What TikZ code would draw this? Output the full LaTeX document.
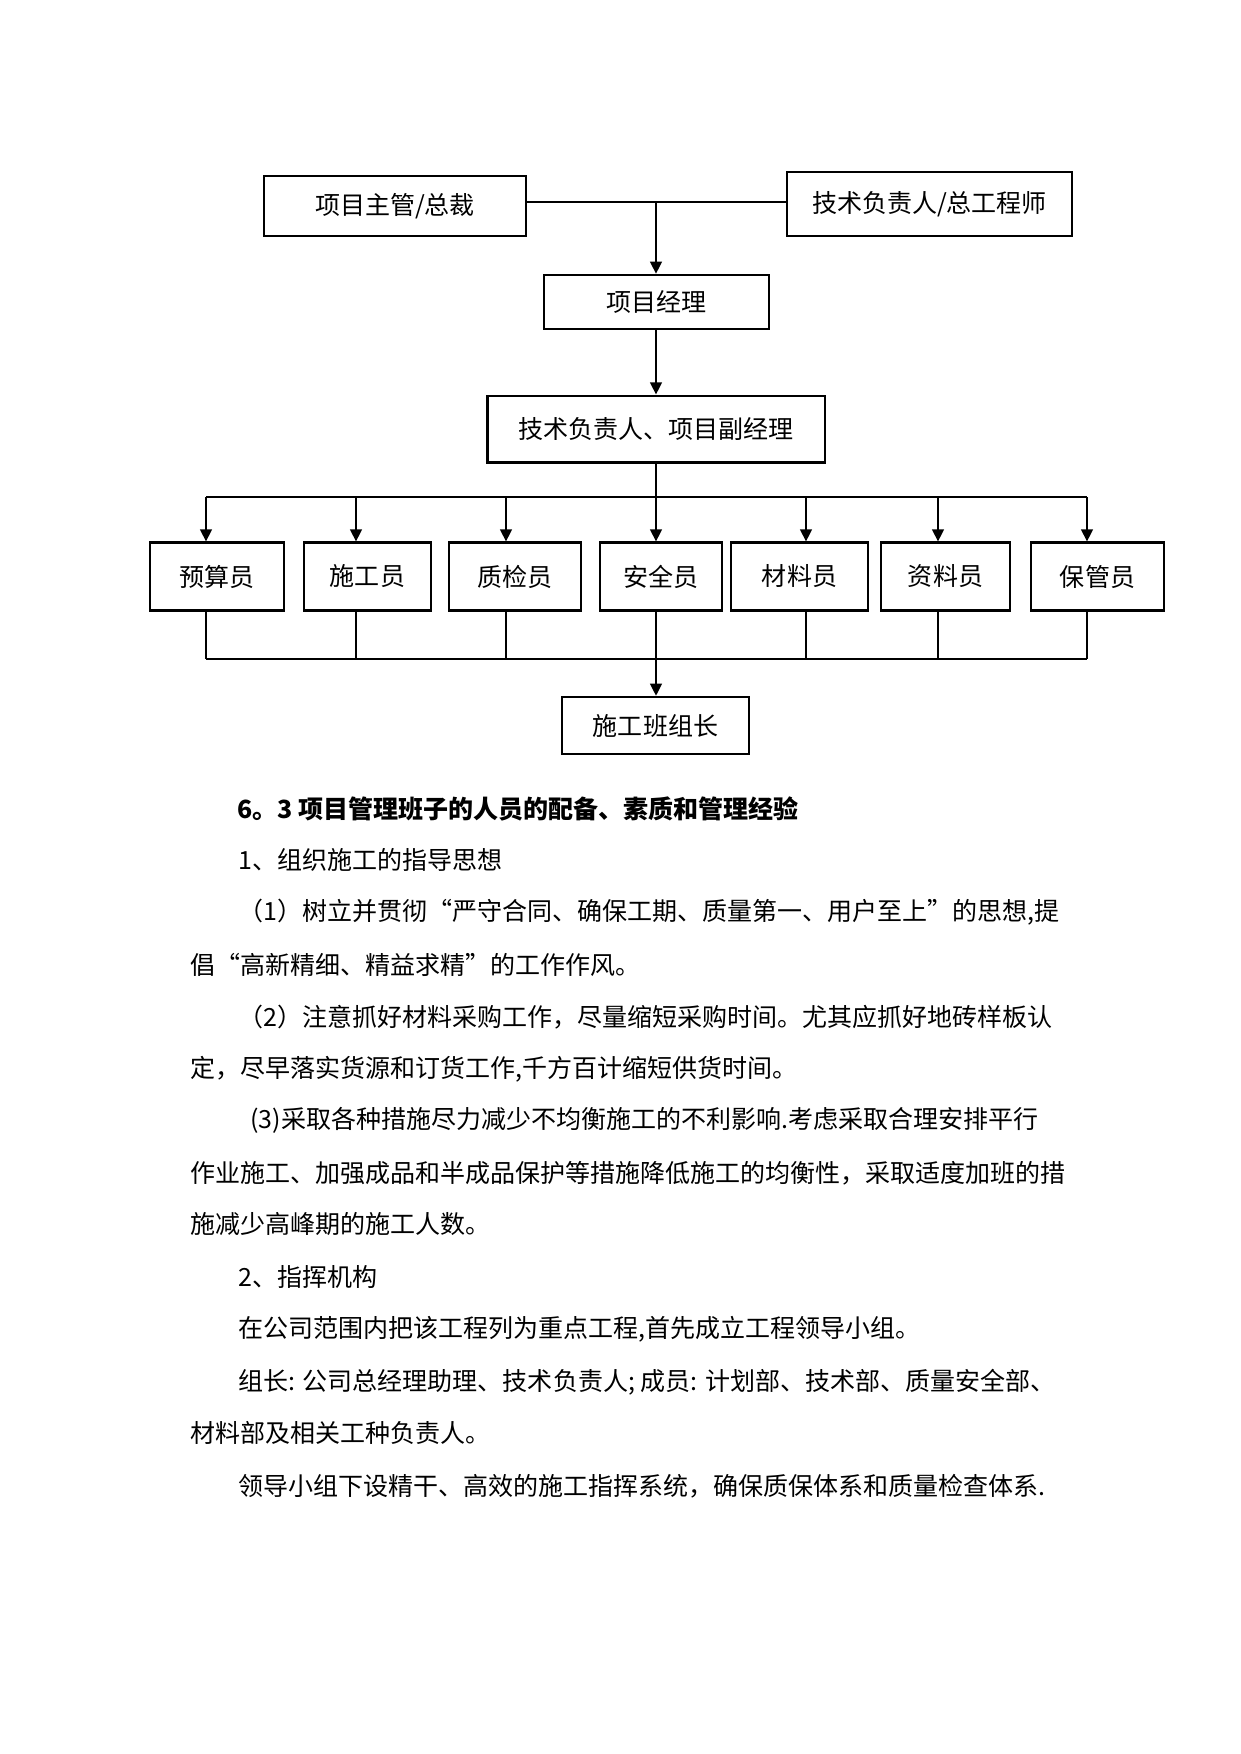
\documentclass[tikz,border=0pt]{standalone}
\usepackage{fontspec}
\setmainfont{Noto Sans CJK SC}
\usepackage{xcolor}
\usepackage{tikz}
\usetikzlibrary{arrows.meta, positioning}

\begin{document}
\begin{tikzpicture}[
    x=0.4797pt, y=-0.4797pt,
    box/.style={rectangle, draw, line width=1pt, inner sep=0pt, align=center,
                font=\fontsize{12pt}{14pt}\selectfont},
    bigbox/.style={box, line width=1.4pt},
    staff/.style={box, minimum height=32.6pt},
    arrow/.style={-{Triangle[length=5.8pt, width=5.6pt]}, line width=1pt},
    link/.style={line width=0.6pt},
    para/.style={anchor=west, inner sep=0pt, font=\fontsize{12pt}{14pt}\selectfont}
]
\useasboundingbox (0,0) rectangle (1241,1754);

\node[box, line width=1.2pt, minimum width=125.7pt, minimum height=28.8pt] (chief) at (395,206) {项目主管/总裁};
\node[bigbox, minimum width=136.7pt, minimum height=30.7pt] (techchief) at (929.5,204) {技术负责人/总工程师};
\node[box, line width=1.2pt, minimum width=108pt, minimum height=25.9pt] (pm) at (656.5,302) {项目经理};
\node[bigbox, minimum width=162.1pt, minimum height=31.7pt] (deputy) at (656,429) {技术负责人、项目副经理};

\node[staff, minimum width=64.3pt] (budget) at (217,576.5) {预算员};
\node[staff, minimum width=61pt] (builder) at (367.5,576.5) {施工员};
\node[staff, minimum width=63.4pt] (qc) at (515,576.5) {质检员};
\node[staff, minimum width=58.6pt] (safety) at (661,576.5) {安全员};
\node[staff, minimum width=65.8pt] (material) at (799.5,576.5) {材料员};
\node[staff, minimum width=62pt] (docs) at (945.5,576.5) {资料员};
\node[staff, minimum width=63.8pt] (store) at (1097.5,576.5) {保管员};

\node[box, line width=1.2pt, minimum width=89.7pt, minimum height=27.3pt] (foreman) at (655.5,725.5) {施工班组长};

\coordinate (split) at (656,202);
\coordinate (base) at (656,659);
\coordinate (d1) at (206,497);
\coordinate (d2) at (356,497);
\coordinate (d3) at (506,497);
\coordinate (d5) at (806,497);
\coordinate (d6) at (938,497);
\coordinate (d7) at (1087,497);

\draw[link] (chief.east |- split) -- (techchief.west |- split);
\draw[arrow] (split) -- (split |- pm.north);
\draw[arrow] (pm.south -| split) -- (split |- deputy.north);
\draw[arrow] (deputy.south -| split) -- (split |- safety.north);
\draw[link] (d1) -- (d7);
\draw[arrow] (d1) -- (d1 |- budget.north);
\draw[arrow] (d2) -- (d2 |- builder.north);
\draw[arrow] (d3) -- (d3 |- qc.north);
\draw[arrow] (d5) -- (d5 |- material.north);
\draw[arrow] (d6) -- (d6 |- docs.north);
\draw[arrow] (d7) -- (d7 |- store.north);
\draw[link] (d1 |- budget.south) -- (d1 |- base);
\draw[link] (d2 |- builder.south) -- (d2 |- base);
\draw[link] (d3 |- qc.south) -- (d3 |- base);
\draw[link] (split |- safety.south) -- (base);
\draw[link] (d5 |- material.south) -- (d5 |- base);
\draw[link] (d6 |- docs.south) -- (d6 |- base);
\draw[link] (d7 |- store.south) -- (d7 |- base);
\draw[line width=1.4pt] (d1 |- base) -- (d7 |- base);
\draw[arrow] (base) -- (base |- foreman.north);

\node[para, font=\fontsize{12pt}{14pt}\selectfont\bfseries] (sec63) at (237,809) {6。3 项目管理班子的人员的配备、素质和管理经验};
\node[para] (idea) at (238,860) {1、组织施工的指导思想};
\node[para] (idea1a) at (238,912) {（1）树立并贯彻“严守合同、确保工期、质量第一、用户至上”的思想,提};
\node[para] (idea1b) at (190,965) {倡“高新精细、精益求精”的工作作风。};
\node[para] (idea2a) at (238,1017) {（2）注意抓好材料采购工作，尽量缩短采购时间。尤其应抓好地砖样板认};
\node[para] (idea2b) at (190,1069) {定，尽早落实货源和订货工作,千方百计缩短供货时间。};
\node[para] (idea3a) at (250,1120) {(3)采取各种措施尽力减少不均衡施工的不利影响.考虑采取合理安排平行};
\node[para] (idea3b) at (190,1173) {作业施工、加强成品和半成品保护等措施降低施工的均衡性，采取适度加班的措};
\node[para] (idea3c) at (190,1224) {施减少高峰期的施工人数。};
\node[para] (command) at (238,1277) {2、指挥机构};
\node[para] (group) at (238,1329) {在公司范围内把该工程列为重点工程,首先成立工程领导小组。};
\node[para] (membera) at (238,1382) {组长: 公司总经理助理、技术负责人; 成员: 计划部、技术部、质量安全部、};
\node[para] (memberb) at (190,1433) {材料部及相关工种负责人。};
\node[para] (system) at (238,1486) {领导小组下设精干、高效的施工指挥系统，确保质保体系和质量检查体系.};
\end{tikzpicture}
\end{document}
